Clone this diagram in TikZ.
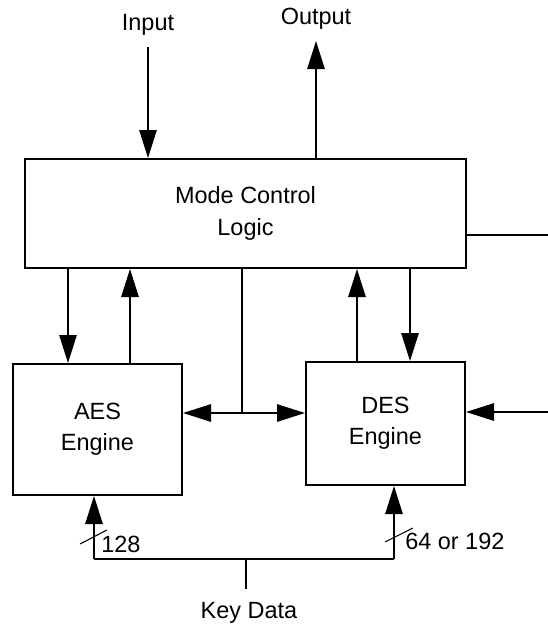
\documentclass[tikz,border=0pt]{standalone}
\usepackage{fontspec}
\setmainfont{Liberation Sans}
\usetikzlibrary{arrows.meta}
\begin{document}
\begin{tikzpicture}[x=0.75pt,y=-0.75pt,
  box/.style={draw, line width=1.5pt, inner sep=0pt, align=center, font=\fontsize{17.6}{23.5}\selectfont},
  lbl/.style={inner sep=0pt, font=\fontsize{17.6}{23}\selectfont},
  wire/.style={line width=1.4pt},
  arr/.style={wire, -{Triangle[length=21pt,width=13pt]}},
  tick/.style={line width=0.8pt}]
\useasboundingbox (0,0) rectangle (548,626);
% boxes
\node[box, minimum width=330.75pt, minimum height=81.75pt] (mode) at (245.5,213.5) {Mode Control\\Logic};
\node[box, minimum width=126.75pt, minimum height=98.25pt] (aes) at (97.5,429.5) {AES\\Engine};
\node[box, minimum width=119.25pt, minimum height=92.25pt] (des) at (385.5,423.5) {DES\\Engine};
% labels
\node[lbl] (inp) at (148,25) {Input};
\node[lbl] (outp) at (316,19) {Output};
\node[lbl] (key) at (249,613) {Key Data};
\node[lbl, anchor=west] (l128) at (101,544) {128};
\node[lbl, anchor=west] (l64) at (405,541) {64 or 192};
% coordinates
\coordinate (inc) at (148,47);
\coordinate (outc) at (316,41);
\coordinate (rout) at (548,235);
\coordinate (rin) at (548,412);
\coordinate (j) at (242,413);
\coordinate (ad) at (68,0);
\coordinate (au) at (130,0);
\coordinate (du) at (357,0);
\coordinate (dd) at (410,0);
\coordinate (kl) at (94,559);
\coordinate (kr) at (394,559);
\coordinate (kd) at (246,559);
\coordinate (kds) at (246,589);
% top
\draw[arr] (inc) -- (inc |- mode.north);
\draw[arr] (outc |- mode.north) -- (outc);
\draw[wire] (rout -| mode.east) -- (rout);
% mode <-> engines
\draw[arr] (ad |- mode.south) -- (ad |- aes.north);
\draw[arr] (au |- aes.north) -- (au |- mode.south);
\draw[arr] (du |- des.north) -- (du |- mode.south);
\draw[arr] (dd |- mode.south) -- (dd |- des.north);
\draw[wire] (j |- mode.south) -- (j);
\draw[arr] (j) -- (j -| aes.east);
\draw[arr] (j) -- (j -| des.west);
\draw[arr] (rin) -- (rin -| des.east);
% key data
\draw[wire] (kl) -- (kr);
\draw[wire] (kd) -- (kds);
\draw[arr] (kl) -- (kl |- aes.south);
\draw[arr] (kr) -- (kr |- des.south);
\draw[tick] (80,544) -- (107,530);
\draw[tick] (385,542) -- (413,528);
\end{tikzpicture}
\end{document}
